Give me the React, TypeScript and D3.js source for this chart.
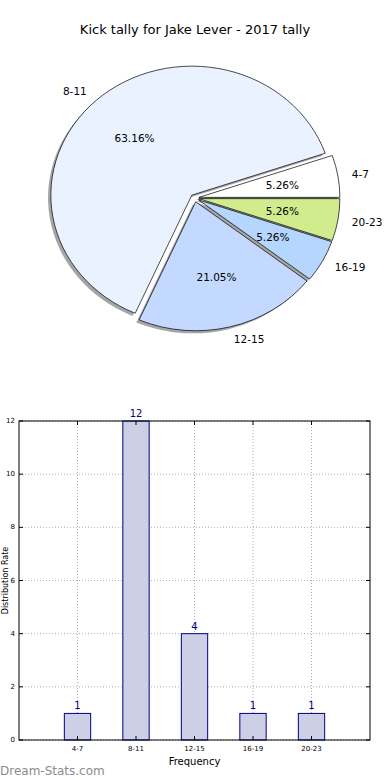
import React from "react"
import * as d3 from "d3"

// data
const categories = ["4-7", "8-11", "12-15", "16-19", "20-23"]
const counts = [1, 12, 4, 1, 1]
const sliceColors = ["#ffffff", "#eaf2ff", "#c4d9ff", "#b4d6ff", "#d0ec8c"]
const yTicks = [0, 2, 4, 6, 8, 10, 12]

const W = 390,
  H = 780
const font = "DejaVu Sans, sans-serif"

// pie geometry (matplotlib's pie is slightly squashed here)
const pie = { cx: 194.7, cy: 198, rx: 141, ry: 129, explode: 0.03 }
// bar axes box
const box = { left: 19, right: 370, top: 421, bottom: 740 }

function PieChart() {
  const total = d3.sum(counts)
  const arcs = d3
    .pie<number>()
    .sort(null)
    .startAngle(Math.PI / 2)
    .endAngle(Math.PI / 2 - 2 * Math.PI)(counts)
  const arc = d3.arc<d3.PieArcDatum<number>>().innerRadius(0).outerRadius(pie.rx)
  const sy = pie.ry / pie.rx

  const pieces = arcs.map((a, i) => {
    const mid = (a.startAngle + a.endAngle) / 2
    const dx = Math.sin(mid),
      dy = -Math.cos(mid)
    const ox = pie.cx + pie.explode * pie.rx * dx
    const oy = pie.cy + pie.explode * pie.ry * dy
    return { a, i, dx, dy, ox, oy }
  })

  return (
    <g>
      {/* shadows */}
      {pieces.map(p => (
        <path
          key={"s" + p.i}
          d={arc(p.a) || ""}
          transform={`translate(${p.ox - 2.8},${p.oy + 2.6}) scale(1,${sy})`}
          fill="#474c4d"
          opacity={0.5}
        />
      ))}
      {pieces.map(p => (
        <path
          key={"p" + p.i}
          d={arc(p.a) || ""}
          transform={`translate(${p.ox},${p.oy}) scale(1,${sy})`}
          fill={sliceColors[p.i]}
          stroke="#000"
          strokeWidth={0.7}
          vectorEffect="non-scaling-stroke"
        />
      ))}
      {pieces.map(p => (
        <text
          key={"pc" + p.i}
          x={p.ox + 0.6 * pie.rx * p.dx}
          y={p.oy + 0.6 * pie.ry * p.dy}
          textAnchor="middle"
          dominantBaseline="central"
          fontSize={10.5}
          fontFamily={font}
          fill="#000"
        >
          {((counts[p.i] / total) * 100).toFixed(2) + "%"}
        </text>
      ))}
      {pieces.map(p => (
        <text
          key={"l" + p.i}
          x={p.ox + 1.1 * pie.rx * p.dx}
          y={p.oy + 1.1 * pie.ry * p.dy}
          textAnchor={p.dx > 0 ? "start" : "end"}
          dominantBaseline="central"
          fontSize={10.5}
          fontFamily={font}
          fill="#000"
        >
          {categories[p.i]}
        </text>
      ))}
    </g>
  )
}

function BarChart() {
  const x = d3.scaleLinear().domain([-1, 5]).range([box.left, box.right])
  const y = d3.scaleLinear().domain([0, 12]).range([box.bottom, box.top])
  const bw = 0.45
  const grid = "#b0b0b0"

  return (
    <g>
      {/* grid */}
      {yTicks.map(t => (
        <line
          key={"gy" + t}
          x1={box.left}
          x2={box.right}
          y1={y(t)}
          y2={y(t)}
          stroke={grid}
          strokeDasharray="1,2"
        />
      ))}
      {categories.map((c, i) => (
        <line
          key={"gx" + c}
          x1={x(i)}
          x2={x(i)}
          y1={box.top}
          y2={box.bottom}
          stroke={grid}
          strokeDasharray="1,2"
        />
      ))}
      {/* bars */}
      {counts.map((v, i) => (
        <rect
          key={"b" + i}
          x={x(i - bw / 2)}
          y={y(v)}
          width={x(bw) - x(0)}
          height={y(0) - y(v)}
          fill="#cdcfe6"
          stroke="#000080"
          strokeWidth={1}
        />
      ))}
      {counts.map((v, i) => (
        <text
          key={"v" + i}
          x={x(i)}
          y={y(v) - 4}
          textAnchor="middle"
          fontSize={10}
          fontFamily={font}
          fill="#000080"
        >
          {v}
        </text>
      ))}
      {/* ticks */}
      {yTicks.map(t => (
        <g key={"ty" + t}>
          <line x1={box.left} x2={box.left + 4} y1={y(t)} y2={y(t)} stroke="#000" />
          <line x1={box.right} x2={box.right - 4} y1={y(t)} y2={y(t)} stroke="#000" />
          <text
            x={box.left - 4}
            y={y(t)}
            textAnchor="end"
            dominantBaseline="central"
            fontSize={7}
            fontFamily={font}
            fill="#000"
          >
            {t}
          </text>
        </g>
      ))}
      {categories.map((c, i) => (
        <g key={"tx" + c}>
          <line x1={x(i)} x2={x(i)} y1={box.bottom} y2={box.bottom - 4} stroke="#000" />
          <line x1={x(i)} x2={x(i)} y1={box.top} y2={box.top + 4} stroke="#000" />
          <text
            x={x(i)}
            y={box.bottom + 11}
            textAnchor="middle"
            fontSize={7}
            fontFamily={font}
            fill="#000"
          >
            {c}
          </text>
        </g>
      ))}
      <rect
        x={box.left}
        y={box.top}
        width={box.right - box.left}
        height={box.bottom - box.top}
        fill="none"
        stroke="#000"
        strokeWidth={1}
      />
      <text
        x={(box.left + box.right) / 2}
        y={765}
        textAnchor="middle"
        fontSize={10}
        fontFamily={font}
        fill="#000"
      >
        Frequency
      </text>
      <text
        transform={`translate(8,${(box.top + box.bottom) / 2}) rotate(-90)`}
        textAnchor="middle"
        fontSize={8}
        fontFamily={font}
        fill="#000"
      >
        Distribution Rate
      </text>
    </g>
  )
}

export default function App() {
  return (
    <svg
      width={W}
      height={H}
      style={{ position: "absolute", left: 0, top: 0, background: "#fff" }}
    >
      <rect width={W} height={H} fill="#fff" />
      <text
        x={W / 2}
        y={34}
        textAnchor="middle"
        fontSize={13}
        fontFamily={font}
        fill="#000"
      >
        Kick tally for Jake Lever - 2017 tally
      </text>
      <PieChart />
      <BarChart />
      <text x={0} y={775} fontSize={12} fontFamily={font} fill="#8c8c8c">
        Dream-Stats.com
      </text>
    </svg>
  )
}
